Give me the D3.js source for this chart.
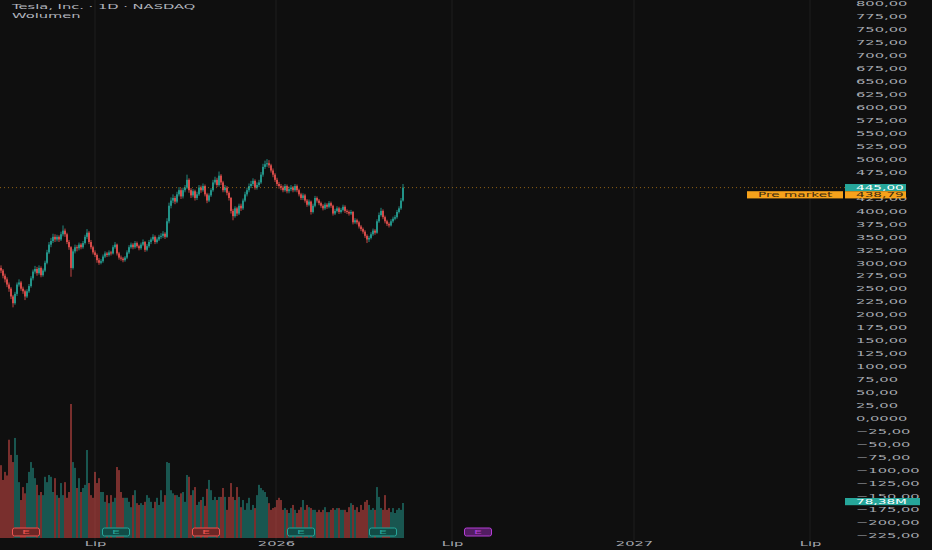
<!DOCTYPE html>
<html>
<head>
<meta charset="utf-8">
<script src="https://cdn.jsdelivr.net/npm/d3@7"></script>
<style>
  html, body { margin: 0; padding: 0; background: #0f0f0f; }
  svg { display: block; }
  text { font-family: "DejaVu Sans", sans-serif; }
</style>
</head>
<body>
<script>
// daily TSLA bars (open = previous close)
const firstOpen = 290;
const closes = [
  285,275,268,258,250,235,222,240,258,262,250,245,235,245,255,270,283,288,280,290,
  276,285,300,320,335,342,350,345,350,345,355,362,355,340,330,290,322,330,328,335,
  330,338,350,358,340,330,320,315,305,300,303,312,318,315,320,318,330,335,318,310,
  308,305,310,320,330,335,330,338,332,328,335,340,325,332,340,345,350,340,345,350,
  352,356,350,380,410,420,425,418,432,440,428,440,445,460,440,430,438,425,432,445,
  440,448,432,420,430,440,455,460,450,468,455,440,445,435,425,400,390,405,395,410,
  405,420,432,440,448,452,458,445,450,455,470,485,490,492,488,478,470,460,452,448,
  445,440,448,438,442,445,440,448,440,432,425,430,420,412,418,398,410,425,420,415,
  410,405,412,408,415,410,395,400,405,398,402,408,400,398,395,398,378,382,378,370,
  365,360,352,345,348,355,362,358,380,392,400,388,380,375,372,380,385,388,398,405,
  420,445
];
const highs = [
  295,288,279,272,262,253,238,244,262,268,265,254,248,249,259,274,287,294,292,295,
  293,289,304,325,340,348,356,355,354,353,360,372,366,358,344,332,326,335,334,339,
  338,342,354,365,361,344,333,324,318,309,307,316,322,321,324,323,334,340,337,321,
  314,311,313,324,334,339,338,342,341,335,339,345,342,336,344,349,355,353,349,354,
  357,361,359,386,416,426,432,429,437,446,444,445,450,470,463,444,442,441,437,450,
  449,453,451,435,434,444,460,466,464,476,471,458,450,448,438,427,404,409,408,414,
  414,424,437,445,453,458,463,461,455,460,475,491,497,500,498,491,482,473,464,456,
  452,449,452,451,447,450,448,452,451,443,435,434,433,423,422,420,414,429,428,423,
  418,413,416,415,419,418,412,404,409,408,406,412,411,403,401,402,400,386,385,381,
  373,368,363,355,352,359,366,365,384,397,406,403,391,383,378,384,389,392,402,409,
  425,452
];
const lows = [
  280,270,262,253,244,230,214,219,236,254,246,240,228,232,242,252,266,279,275,277,
  272,273,282,297,317,330,338,340,341,340,342,351,350,336,325,273,287,318,322,324,
  326,327,335,346,336,326,316,311,300,296,297,300,309,311,312,314,316,327,314,306,
  304,301,302,307,317,327,326,327,329,324,325,332,321,322,329,336,342,336,337,342,
  346,348,346,348,376,405,415,413,415,428,423,424,436,442,435,425,426,420,421,429,
  435,437,428,415,417,427,437,451,446,447,450,436,436,430,420,395,382,387,390,392,
  400,402,417,428,436,444,448,441,441,446,452,466,481,485,483,474,465,456,448,443,
  440,436,437,434,434,438,436,437,436,428,421,421,416,408,409,393,395,407,416,411,
  406,401,402,404,405,406,391,392,397,394,395,399,396,394,391,392,374,375,374,366,
  361,356,348,338,340,345,352,354,356,377,389,384,376,371,368,370,377,382,385,395,
  402,418
];
// volume in millions
const volumes = [
  163,130,148,140,220,186,170,224,186,125,85,114,100,123,148,170,157,134,119,96,
  103,96,137,125,141,137,103,134,96,90,123,96,125,90,103,300,170,157,112,134,
  103,112,119,197,123,96,90,148,123,134,103,103,81,96,78,96,81,90,159,152,
  103,90,90,90,81,69,96,107,78,74,78,74,81,96,90,81,67,81,90,74,
  107,81,96,170,168,107,100,96,96,92,100,103,81,141,137,96,107,114,74,81,
  85,92,72,110,130,107,85,92,85,92,92,112,92,63,92,123,92,85,114,92,
  69,85,63,78,90,63,74,67,96,119,112,107,103,92,78,63,67,69,85,90,
  85,63,67,63,56,67,74,63,56,63,69,85,63,74,69,67,63,63,58,63,
  58,63,69,58,58,63,67,63,67,67,63,63,63,58,69,78,74,63,69,58,
  74,63,81,85,74,63,67,63,114,92,67,63,96,63,67,58,67,56,63,67,
  63,78.38
];

// right price scale (450,00 sits under the last-price label)
const priceTicks = [800,775,750,725,700,675,650,625,600,575,550,525,500,475,425,400,375,350,325,
  300,275,250,225,200,175,150,125,100,75,50,25,0,-25,-50,-75,-100,-125,-150,-175,-200,-225];
const priceTickLabels = ["800,00","775,00","750,00","725,00","700,00","675,00","650,00","625,00","600,00",
  "575,00","550,00","525,00","500,00","475,00","425,00","400,00","375,00","350,00","325,00",
  "300,00","275,00","250,00","225,00","200,00","175,00","150,00","125,00","100,00","75,00","50,00","25,00",
  "0,0000","\u221225,00","\u221250,00","\u221275,00","\u2212100,00","\u2212125,00","\u2212150,00",
  "\u2212175,00","\u2212200,00","\u2212225,00"];

// time axis (positions in bar index units)
const timeTicks = [47, 137.5, 225.5, 316.5, 404.5];
const timeTickLabels = ["Lip", "2026", "Lip", "2027", "Lip"];

// earnings markers
const earnIdx = [12.5, 57.5, 102.5, 150, 191, 238.5];
const earnKind = ["down", "up", "down", "up", "up", "next"];

const lastPrice = 445, preMarket = 438.79, lastVolume = 78.38;

const W = 932, H = 550;
const up = "#26a69a", down = "#ef5350", orange = "#f7a21b", purple = "#b43fd6";
const SX = 2.1; // the picture's text is stretched sideways

const svg = d3.select("body").append("svg")
    .attr("width", W)
    .attr("height", H);

svg.append("rect").attr("width", W).attr("height", H).attr("fill", "#0f0f0f");

const bars = closes.map((c, i) => ({
  i: i, o: i ? closes[i - 1] : firstOpen, c: c, h: highs[i], l: lows[i], v: volumes[i]
}));

const x = d3.scaleLinear().domain([0, closes.length - 1]).range([1, 403]);
const y = d3.scaleLinear().domain([-225, 800]).range([534.9, 3.6]);
const yv = d3.scaleLinear().domain([0, 300]).range([538, 404]);

// vertical grid
svg.append("g").selectAll("line")
  .data(timeTicks).enter().append("line")
    .attr("x1", d => x(d)).attr("x2", d => x(d))
    .attr("y1", 0).attr("y2", 540)
    .attr("stroke", "#1f1f1f")
    .attr("stroke-width", 1);

// volume
svg.append("g").selectAll("rect")
  .data(bars).enter().append("rect")
    .attr("x", d => x(d.i) - 0.95)
    .attr("width", 1.9)
    .attr("y", d => yv(d.v))
    .attr("height", d => yv(0) - yv(d.v))
    .attr("fill", d => d.c >= d.o ? up : down)
    .attr("opacity", 0.5);

// candles
const cg = svg.append("g");
cg.selectAll("line")
  .data(bars).enter().append("line")
    .attr("x1", d => x(d.i)).attr("x2", d => x(d.i))
    .attr("y1", d => y(d.h)).attr("y2", d => y(d.l))
    .attr("stroke", d => d.c >= d.o ? up : down)
    .attr("stroke-width", 0.8);
cg.selectAll("rect")
  .data(bars).enter().append("rect")
    .attr("x", d => x(d.i) - 0.8)
    .attr("width", 1.6)
    .attr("y", d => y(Math.max(d.o, d.c)))
    .attr("height", d => Math.max(0.8, Math.abs(y(d.o) - y(d.c))))
    .attr("fill", d => d.c >= d.o ? up : down);

// last price dotted line
svg.append("line")
    .attr("x1", 0).attr("x2", 845)
    .attr("y1", y(lastPrice)).attr("y2", y(lastPrice))
    .attr("stroke", orange)
    .attr("stroke-opacity", 0.55)
    .attr("stroke-dasharray", "1,3");

// earnings badges
const kindColor = {down: down, up: up, next: purple};
const eg = svg.append("g").selectAll("g")
  .data(earnIdx.map((d, k) => ({i: d, kind: earnKind[k]})))
  .enter().append("g")
    .attr("transform", d => `translate(${x(d.i)},532)`);
eg.append("rect")
    .attr("x", -13.5).attr("y", -4)
    .attr("width", 27).attr("height", 8)
    .attr("rx", 2)
    .attr("fill", d => d3.color(kindColor[d.kind]).darker(2.2))
    .attr("stroke", d => kindColor[d.kind])
    .attr("stroke-width", 1);
eg.append("text")
    .attr("transform", `scale(${SX},1)`)
    .attr("text-anchor", "middle")
    .attr("dy", "0.35em")
    .attr("font-size", 6)
    .attr("fill", d => kindColor[d.kind])
    .text("E");

// price axis
const yAxis = svg.append("g")
    .attr("transform", "translate(856,0)")
    .call(d3.axisRight(y)
      .tickValues(priceTicks)
      .tickSize(0)
      .tickPadding(0)
      .tickFormat((d, k) => priceTickLabels[k]));
yAxis.select(".domain").remove();
yAxis.selectAll("text")
    .attr("transform", `scale(${SX},1)`)
    .attr("font-size", 7)
    .attr("font-family", "DejaVu Sans")
    .attr("fill", "#a6a9b0");

// time axis
const xAxis = svg.append("g")
    .attr("transform", "translate(0,538)")
    .call(d3.axisBottom(x)
      .tickValues(timeTicks)
      .tickSize(0)
      .tickPadding(3)
      .tickFormat((d, k) => timeTickLabels[k]));
xAxis.select(".domain").remove();
xAxis.selectAll("text")
    .attr("transform", `scale(${SX},1)`)
    .attr("font-size", 7)
    .attr("font-family", "DejaVu Sans")
    .attr("fill", "#a6a9b0");

// boxed labels on the scale
function boxLabel(x0, w, yc, fill, str, color) {
  svg.append("rect")
      .attr("x", x0).attr("y", yc - 3.6)
      .attr("width", w).attr("height", 7.2)
      .attr("fill", fill);
  svg.append("text")
      .attr("transform", `translate(${x0 + 11},${yc}) scale(${SX},1)`)
      .attr("dy", "0.36em")
      .attr("font-size", 6.5)
      .attr("fill", color)
      .text(str);
}
boxLabel(845, 61, y(lastPrice), up, "445,00", "#ffffff");
boxLabel(845, 61, y(lastPrice) + 7.2, orange, "438,79", "#3b2a10");
boxLabel(747, 96, y(lastPrice) + 7.2, orange, "Pre market", "#3b2a10");
boxLabel(845, 75, 501.6, up, "78,38M", "#ffffff");

// header
svg.append("text")
    .attr("transform", `translate(12,9) scale(${SX},1)`)
    .attr("font-size", 7)
    .attr("fill", "#b2b5be")
    .text("Tesla, Inc. \u00b7 1D \u00b7 NASDAQ");
svg.append("text")
    .attr("transform", `translate(12,17.5) scale(${SX},1)`)
    .attr("font-size", 7)
    .attr("fill", "#b2b5be")
    .text("Wolumen");
</script>
</body>
</html>
